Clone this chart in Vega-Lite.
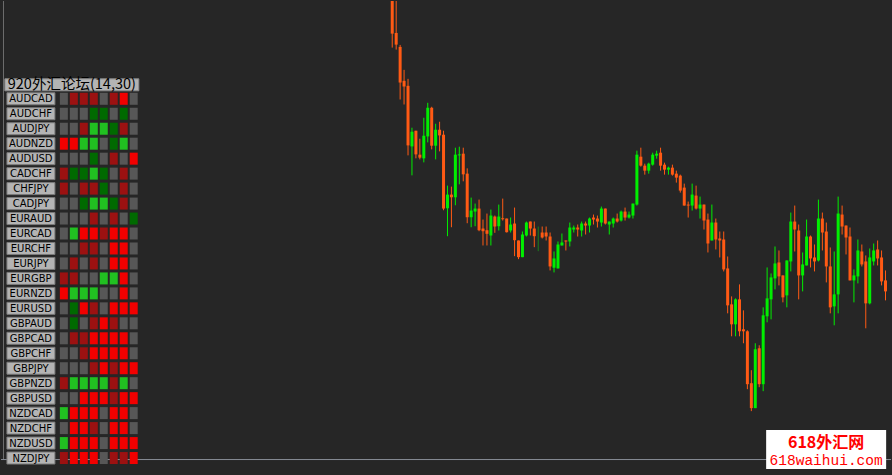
{
"$schema": "https://vega.github.io/schema/vega-lite/v6.json",
"width": 892, "height": 475, "padding": 0,
"autosize": {"type": "fit", "contains": "padding"},
"background": "#262626",
"config": {"view": {"stroke": null}},
"datasets": {
"candles": [
{"i":0,"o":480,"h":485,"l":428.3,"c":442.3},
{"i":1,"o":443,"h":478,"l":426.3,"c":431.3},
{"i":2,"o":429,"h":431,"l":376.3,"c":393.3},
{"i":3,"o":395,"h":406,"l":371.3,"c":389.3},
{"i":4,"o":390,"h":397,"l":320.3,"c":330.3},
{"i":5,"o":329.3,"h":348,"l":300.3,"c":344},
{"i":6,"o":345,"h":345,"l":317.3,"c":321.3},
{"i":7,"o":321,"h":337,"l":316.3,"c":318},
{"i":8,"o":317.3,"h":358,"l":313.3,"c":340},
{"i":9,"o":339.3,"h":373,"l":333.3,"c":368},
{"i":10,"o":368,"h":369,"l":326.3,"c":330},
{"i":11,"o":330,"h":352,"l":316.3,"c":346},
{"i":12,"o":346,"h":354,"l":324.3,"c":340.3},
{"i":13,"o":341,"h":345,"l":265.3,"c":267},
{"i":14,"o":267.3,"h":290,"l":239.3,"c":281},
{"i":15,"o":281,"h":289,"l":248.3,"c":278.3},
{"i":16,"o":278.3,"h":328,"l":270.3,"c":321},
{"i":17,"o":320.3,"h":329,"l":291.3,"c":321.3},
{"i":18,"o":322,"h":328,"l":294.3,"c":301.3},
{"i":19,"o":302,"h":307.3,"l":252.3,"c":258.3},
{"i":20,"o":258.3,"h":278,"l":248.3,"c":265},
{"i":21,"o":264,"h":272,"l":249.3,"c":267},
{"i":22,"o":267,"h":276,"l":244.3,"c":245.3},
{"i":23,"o":247,"h":256,"l":230,"c":244.3},
{"i":24,"o":245.3,"h":262,"l":230,"c":241.7},
{"i":25,"o":240,"h":266,"l":230,"c":260},
{"i":26,"o":259,"h":260,"l":242.7,"c":249},
{"i":27,"o":249.3,"h":271,"l":245,"c":259},
{"i":28,"o":257.3,"h":277,"l":255,"c":256.3},
{"i":29,"o":257,"h":257,"l":243,"c":243.3},
{"i":30,"o":245,"h":258,"l":243,"c":251},
{"i":31,"o":252,"h":268,"l":219.3,"c":235.3},
{"i":32,"o":235,"h":235,"l":216.3,"c":218.3},
{"i":33,"o":218.3,"h":244,"l":218.3,"c":241},
{"i":34,"o":240,"h":254,"l":239,"c":253},
{"i":35,"o":254,"h":254,"l":240,"c":247},
{"i":36,"o":247,"h":254,"l":228.3,"c":239.3},
{"i":37,"o":243,"h":249,"l":224.3,"c":243},
{"i":38,"o":243,"h":249,"l":237,"c":238},
{"i":39,"o":243,"h":249,"l":235,"c":239},
{"i":40,"o":239,"h":243,"l":205,"c":209},
{"i":41,"o":207.7,"h":224,"l":203,"c":217},
{"i":42,"o":207,"h":234,"l":207,"c":231},
{"i":43,"o":230,"h":242,"l":230,"c":233},
{"i":44,"o":235,"h":235,"l":225,"c":234},
{"i":45,"o":234,"h":253,"l":229,"c":248},
{"i":46,"o":246,"h":250,"l":243,"c":248},
{"i":47,"o":248,"h":251,"l":239,"c":246},
{"i":48,"o":245,"h":254,"l":239,"c":252},
{"i":49,"o":252,"h":254,"l":241,"c":250},
{"i":50,"o":250,"h":258,"l":243,"c":257},
{"i":51,"o":258,"h":261,"l":251,"c":256},
{"i":52,"o":257,"h":260,"l":248,"c":254},
{"i":53,"o":253,"h":269,"l":249,"c":267},
{"i":54,"o":267,"h":267,"l":251,"c":252},
{"i":55,"o":251,"h":254,"l":241,"c":254},
{"i":56,"o":252,"h":258,"l":248,"c":257},
{"i":57,"o":257,"h":262,"l":253,"c":254},
{"i":58,"o":255,"h":265,"l":254,"c":264},
{"i":59,"o":264,"h":268,"l":255,"c":258},
{"i":60,"o":258,"h":264,"l":257,"c":261},
{"i":61,"o":260,"h":272,"l":257,"c":272},
{"i":62,"o":271,"h":325,"l":270,"c":321},
{"i":63,"o":319,"h":328,"l":309,"c":310},
{"i":64,"o":310,"h":312,"l":301,"c":305},
{"i":65,"o":305,"h":313,"l":302,"c":312},
{"i":66,"o":311,"h":323,"l":310,"c":321},
{"i":67,"o":320,"h":325,"l":317,"c":322},
{"i":68,"o":323,"h":328,"l":305,"c":310},
{"i":69,"o":311,"h":313,"l":301,"c":306},
{"i":70,"o":306,"h":309,"l":301,"c":308},
{"i":71,"o":308,"h":311,"l":300,"c":301},
{"i":72,"o":302,"h":305,"l":293,"c":298},
{"i":73,"o":300,"h":301,"l":283,"c":285},
{"i":74,"o":288,"h":292,"l":270,"c":270},
{"i":75,"o":271,"h":274,"l":258,"c":270},
{"i":76,"o":270,"h":292,"l":265,"c":281},
{"i":77,"o":280,"h":290,"l":266,"c":267},
{"i":78,"o":267,"h":279,"l":257,"c":271},
{"i":79,"o":271,"h":271,"l":246,"c":255},
{"i":80,"o":256,"h":262,"l":223,"c":232},
{"i":81,"o":235,"h":271,"l":235,"c":253},
{"i":82,"o":253,"h":257,"l":226,"c":236},
{"i":83,"o":237,"h":244,"l":218,"c":235},
{"i":84,"o":236,"h":244,"l":204,"c":206},
{"i":85,"o":207,"h":219,"l":162,"c":170},
{"i":86,"o":171,"h":179,"l":139,"c":151},
{"i":87,"o":151,"h":177,"l":139,"c":176},
{"i":88,"o":176,"h":191,"l":139,"c":144},
{"i":89,"o":146,"h":165,"l":132,"c":144},
{"i":90,"o":144,"h":145,"l":86,"c":91},
{"i":91,"o":92,"h":105,"l":64,"c":67},
{"i":92,"o":67,"h":132,"l":67,"c":126},
{"i":93,"o":127,"h":130,"l":88,"c":91},
{"i":94,"o":91,"h":168,"l":84,"c":160},
{"i":95,"o":159,"h":208,"l":153,"c":177},
{"i":96,"o":176,"h":202,"l":156,"c":198},
{"i":97,"o":197,"h":229,"l":186,"c":212},
{"i":98,"o":213,"h":225,"l":190,"c":199},
{"i":99,"o":200,"h":200,"l":173,"c":178},
{"i":100,"o":180,"h":215,"l":168,"c":215},
{"i":101,"o":214,"h":263,"l":204,"c":254},
{"i":102,"o":254,"h":270,"l":224,"c":246},
{"i":103,"o":245,"h":251,"l":176,"c":200},
{"i":104,"o":200,"h":223,"l":184,"c":211},
{"i":105,"o":210,"h":256,"l":210,"c":239},
{"i":106,"o":239,"h":240,"l":208,"c":217},
{"i":107,"o":218,"h":231,"l":204,"c":214},
{"i":108,"o":215,"h":276,"l":214,"c":257},
{"i":109,"o":257,"h":263,"l":225,"c":243},
{"i":110,"o":244,"h":253,"l":193,"c":209},
{"i":111,"o":209,"h":228,"l":162,"c":168},
{"i":112,"o":169,"h":224,"l":150,"c":181},
{"i":113,"o":181,"h":279,"l":162,"c":262},
{"i":114,"o":261,"h":270,"l":241,"c":249},
{"i":115,"o":250,"h":250,"l":221,"c":238},
{"i":116,"o":239,"h":248,"l":195,"c":195},
{"i":117,"o":195,"h":206,"l":173,"c":200},
{"i":118,"o":199,"h":236,"l":192,"c":225},
{"i":119,"o":224,"h":231,"l":209,"c":211},
{"i":120,"o":214,"h":220,"l":147,"c":172},
{"i":121,"o":172,"h":227,"l":171,"c":218},
{"i":122,"o":214,"h":232,"l":210,"c":225},
{"i":123,"o":226,"h":235,"l":210,"c":217},
{"i":124,"o":218,"h":225,"l":190,"c":194},
{"i":125,"o":195,"h":205,"l":175,"c":184}
],
"pairs": [
{"p":"AUDCAD","r":0},{"p":"AUDCHF","r":1},{"p":"AUDJPY","r":2},{"p":"AUDNZD","r":3},{"p":"AUDUSD","r":4},
{"p":"CADCHF","r":5},{"p":"CHFJPY","r":6},{"p":"CADJPY","r":7},{"p":"EURAUD","r":8},{"p":"EURCAD","r":9},
{"p":"EURCHF","r":10},{"p":"EURJPY","r":11},{"p":"EURGBP","r":12},{"p":"EURNZD","r":13},{"p":"EURUSD","r":14},
{"p":"GBPAUD","r":15},{"p":"GBPCAD","r":16},{"p":"GBPCHF","r":17},{"p":"GBPJPY","r":18},{"p":"GBPNZD","r":19},
{"p":"GBPUSD","r":20},{"p":"NZDCAD","r":21},{"p":"NZDCHF","r":22},{"p":"NZDUSD","r":23},{"p":"NZDJPY","r":24}
],
"cells": [
{"p":"AUDCAD","k":1,"s":"n"},{"p":"AUDCAD","k":2,"s":"dr"},{"p":"AUDCAD","k":3,"s":"dr"},{"p":"AUDCAD","k":4,"s":"dr"},{"p":"AUDCAD","k":5,"s":"n"},{"p":"AUDCAD","k":6,"s":"dr"},{"p":"AUDCAD","k":7,"s":"r"},{"p":"AUDCAD","k":8,"s":"n"},
{"p":"AUDCHF","k":1,"s":"n"},{"p":"AUDCHF","k":2,"s":"n"},{"p":"AUDCHF","k":3,"s":"n"},{"p":"AUDCHF","k":4,"s":"dg"},{"p":"AUDCHF","k":5,"s":"dg"},{"p":"AUDCHF","k":6,"s":"n"},{"p":"AUDCHF","k":7,"s":"dg"},{"p":"AUDCHF","k":8,"s":"n"},
{"p":"AUDJPY","k":1,"s":"n"},{"p":"AUDJPY","k":2,"s":"n"},{"p":"AUDJPY","k":3,"s":"dr"},{"p":"AUDJPY","k":4,"s":"g"},{"p":"AUDJPY","k":5,"s":"g"},{"p":"AUDJPY","k":6,"s":"dg"},{"p":"AUDJPY","k":7,"s":"dr"},{"p":"AUDJPY","k":8,"s":"n"},
{"p":"AUDNZD","k":1,"s":"r"},{"p":"AUDNZD","k":2,"s":"r"},{"p":"AUDNZD","k":3,"s":"g"},{"p":"AUDNZD","k":4,"s":"g"},{"p":"AUDNZD","k":5,"s":"n"},{"p":"AUDNZD","k":6,"s":"dg"},{"p":"AUDNZD","k":7,"s":"g"},{"p":"AUDNZD","k":8,"s":"n"},
{"p":"AUDUSD","k":1,"s":"n"},{"p":"AUDUSD","k":2,"s":"n"},{"p":"AUDUSD","k":3,"s":"n"},{"p":"AUDUSD","k":4,"s":"dg"},{"p":"AUDUSD","k":5,"s":"n"},{"p":"AUDUSD","k":6,"s":"dr"},{"p":"AUDUSD","k":7,"s":"n"},{"p":"AUDUSD","k":8,"s":"r"},
{"p":"CADCHF","k":1,"s":"dr"},{"p":"CADCHF","k":2,"s":"dg"},{"p":"CADCHF","k":3,"s":"dg"},{"p":"CADCHF","k":4,"s":"g"},{"p":"CADCHF","k":5,"s":"dg"},{"p":"CADCHF","k":6,"s":"n"},{"p":"CADCHF","k":7,"s":"dr"},{"p":"CADCHF","k":8,"s":"n"},
{"p":"CHFJPY","k":1,"s":"dr"},{"p":"CHFJPY","k":2,"s":"n"},{"p":"CHFJPY","k":3,"s":"dr"},{"p":"CHFJPY","k":4,"s":"dr"},{"p":"CHFJPY","k":5,"s":"dg"},{"p":"CHFJPY","k":6,"s":"n"},{"p":"CHFJPY","k":7,"s":"dr"},{"p":"CHFJPY","k":8,"s":"n"},
{"p":"CADJPY","k":1,"s":"n"},{"p":"CADJPY","k":2,"s":"n"},{"p":"CADJPY","k":3,"s":"dg"},{"p":"CADJPY","k":4,"s":"g"},{"p":"CADJPY","k":5,"s":"g"},{"p":"CADJPY","k":6,"s":"dg"},{"p":"CADJPY","k":7,"s":"dr"},{"p":"CADJPY","k":8,"s":"n"},
{"p":"EURAUD","k":1,"s":"n"},{"p":"EURAUD","k":2,"s":"n"},{"p":"EURAUD","k":3,"s":"n"},{"p":"EURAUD","k":4,"s":"dr"},{"p":"EURAUD","k":5,"s":"n"},{"p":"EURAUD","k":6,"s":"dr"},{"p":"EURAUD","k":7,"s":"n"},{"p":"EURAUD","k":8,"s":"dg"},
{"p":"EURCAD","k":1,"s":"n"},{"p":"EURCAD","k":2,"s":"g"},{"p":"EURCAD","k":3,"s":"r"},{"p":"EURCAD","k":4,"s":"r"},{"p":"EURCAD","k":5,"s":"dr"},{"p":"EURCAD","k":6,"s":"r"},{"p":"EURCAD","k":7,"s":"r"},{"p":"EURCAD","k":8,"s":"n"},
{"p":"EURCHF","k":1,"s":"n"},{"p":"EURCHF","k":2,"s":"n"},{"p":"EURCHF","k":3,"s":"dr"},{"p":"EURCHF","k":4,"s":"dr"},{"p":"EURCHF","k":5,"s":"n"},{"p":"EURCHF","k":6,"s":"r"},{"p":"EURCHF","k":7,"s":"r"},{"p":"EURCHF","k":8,"s":"n"},
{"p":"EURJPY","k":1,"s":"n"},{"p":"EURJPY","k":2,"s":"dr"},{"p":"EURJPY","k":3,"s":"n"},{"p":"EURJPY","k":4,"s":"dr"},{"p":"EURJPY","k":5,"s":"n"},{"p":"EURJPY","k":6,"s":"r"},{"p":"EURJPY","k":7,"s":"r"},{"p":"EURJPY","k":8,"s":"n"},
{"p":"EURGBP","k":1,"s":"dr"},{"p":"EURGBP","k":2,"s":"dr"},{"p":"EURGBP","k":3,"s":"n"},{"p":"EURGBP","k":4,"s":"n"},{"p":"EURGBP","k":5,"s":"g"},{"p":"EURGBP","k":6,"s":"g"},{"p":"EURGBP","k":7,"s":"r"},{"p":"EURGBP","k":8,"s":"n"},
{"p":"EURNZD","k":1,"s":"r"},{"p":"EURNZD","k":2,"s":"g"},{"p":"EURNZD","k":3,"s":"g"},{"p":"EURNZD","k":4,"s":"g"},{"p":"EURNZD","k":5,"s":"n"},{"p":"EURNZD","k":6,"s":"n"},{"p":"EURNZD","k":7,"s":"r"},{"p":"EURNZD","k":8,"s":"n"},
{"p":"EURUSD","k":1,"s":"n"},{"p":"EURUSD","k":2,"s":"dg"},{"p":"EURUSD","k":3,"s":"r"},{"p":"EURUSD","k":4,"s":"dr"},{"p":"EURUSD","k":5,"s":"n"},{"p":"EURUSD","k":6,"s":"r"},{"p":"EURUSD","k":7,"s":"r"},{"p":"EURUSD","k":8,"s":"r"},
{"p":"GBPAUD","k":1,"s":"n"},{"p":"GBPAUD","k":2,"s":"dg"},{"p":"GBPAUD","k":3,"s":"n"},{"p":"GBPAUD","k":4,"s":"dr"},{"p":"GBPAUD","k":5,"s":"r"},{"p":"GBPAUD","k":6,"s":"dr"},{"p":"GBPAUD","k":7,"s":"n"},{"p":"GBPAUD","k":8,"s":"n"},
{"p":"GBPCAD","k":1,"s":"n"},{"p":"GBPCAD","k":2,"s":"dr"},{"p":"GBPCAD","k":3,"s":"dr"},{"p":"GBPCAD","k":4,"s":"r"},{"p":"GBPCAD","k":5,"s":"r"},{"p":"GBPCAD","k":6,"s":"r"},{"p":"GBPCAD","k":7,"s":"r"},{"p":"GBPCAD","k":8,"s":"n"},
{"p":"GBPCHF","k":1,"s":"n"},{"p":"GBPCHF","k":2,"s":"n"},{"p":"GBPCHF","k":3,"s":"dr"},{"p":"GBPCHF","k":4,"s":"r"},{"p":"GBPCHF","k":5,"s":"r"},{"p":"GBPCHF","k":6,"s":"r"},{"p":"GBPCHF","k":7,"s":"r"},{"p":"GBPCHF","k":8,"s":"n"},
{"p":"GBPJPY","k":1,"s":"n"},{"p":"GBPJPY","k":2,"s":"n"},{"p":"GBPJPY","k":3,"s":"n"},{"p":"GBPJPY","k":4,"s":"dr"},{"p":"GBPJPY","k":5,"s":"r"},{"p":"GBPJPY","k":6,"s":"dr"},{"p":"GBPJPY","k":7,"s":"r"},{"p":"GBPJPY","k":8,"s":"r"},
{"p":"GBPNZD","k":1,"s":"dr"},{"p":"GBPNZD","k":2,"s":"g"},{"p":"GBPNZD","k":3,"s":"g"},{"p":"GBPNZD","k":4,"s":"g"},{"p":"GBPNZD","k":5,"s":"g"},{"p":"GBPNZD","k":6,"s":"dr"},{"p":"GBPNZD","k":7,"s":"g"},{"p":"GBPNZD","k":8,"s":"n"},
{"p":"GBPUSD","k":1,"s":"n"},{"p":"GBPUSD","k":2,"s":"n"},{"p":"GBPUSD","k":3,"s":"r"},{"p":"GBPUSD","k":4,"s":"r"},{"p":"GBPUSD","k":5,"s":"r"},{"p":"GBPUSD","k":6,"s":"dr"},{"p":"GBPUSD","k":7,"s":"r"},{"p":"GBPUSD","k":8,"s":"r"},
{"p":"NZDCAD","k":1,"s":"g"},{"p":"NZDCAD","k":2,"s":"r"},{"p":"NZDCAD","k":3,"s":"r"},{"p":"NZDCAD","k":4,"s":"r"},{"p":"NZDCAD","k":5,"s":"n"},{"p":"NZDCAD","k":6,"s":"r"},{"p":"NZDCAD","k":7,"s":"r"},{"p":"NZDCAD","k":8,"s":"n"},
{"p":"NZDCHF","k":1,"s":"n"},{"p":"NZDCHF","k":2,"s":"r"},{"p":"NZDCHF","k":3,"s":"r"},{"p":"NZDCHF","k":4,"s":"dr"},{"p":"NZDCHF","k":5,"s":"n"},{"p":"NZDCHF","k":6,"s":"r"},{"p":"NZDCHF","k":7,"s":"r"},{"p":"NZDCHF","k":8,"s":"n"},
{"p":"NZDUSD","k":1,"s":"g"},{"p":"NZDUSD","k":2,"s":"r"},{"p":"NZDUSD","k":3,"s":"r"},{"p":"NZDUSD","k":4,"s":"r"},{"p":"NZDUSD","k":5,"s":"n"},{"p":"NZDUSD","k":6,"s":"r"},{"p":"NZDUSD","k":7,"s":"r"},{"p":"NZDUSD","k":8,"s":"r"},
{"p":"NZDJPY","k":1,"s":"dr"},{"p":"NZDJPY","k":2,"s":"r"},{"p":"NZDJPY","k":3,"s":"r"},{"p":"NZDJPY","k":4,"s":"r"},{"p":"NZDJPY","k":5,"s":"n"},{"p":"NZDJPY","k":6,"s":"dr"},{"p":"NZDJPY","k":7,"s":"dr"},{"p":"NZDJPY","k":8,"s":"r"}
],
"title": [{"t":"920外汇论坛(14,30)"}],
"wm1": [{"t":"618外汇网"}],
"wm2": [{"t":"618waihui.com"}]
},
"layer": [
{
"data": {"name": "candles"},
"encoding": {
"x": {"field": "i", "type": "quantitative", "axis": null, "scale": {"domain": [-97.875, 125.125], "nice": false, "zero": false}},
"color": {"condition": [{"test": "datum.c == datum.o", "value": "#1b7d1b"}, {"test": "datum.c > datum.o", "value": "#00ee00"}], "value": "#ff5a14"}
},
"layer": [
{"mark": {"type": "rule", "strokeWidth": 1, "clip": true},
"encoding": {"y": {"field": "l", "type": "quantitative", "axis": null, "scale": {"domain": [0, 475], "nice": false, "zero": false}}, "y2": {"field": "h"}}},
{"mark": {"type": "bar", "width": 3, "clip": true},
"encoding": {"y": {"field": "o", "type": "quantitative", "axis": null, "scale": {"domain": [0, 475], "nice": false, "zero": false}}, "y2": {"field": "c"}}}
]
},
{
"layer": [
{"data": {"values": [{}]}, "mark": {"type": "rule", "color": "#6e6e6e", "strokeWidth": 1},
"encoding": {"x": {"datum": -5.05, "type": "quantitative", "axis": null, "scale": {"domain": [-5.3, 83.9], "nice": false, "zero": false}},
"y": {"datum": -6.5333, "type": "quantitative", "axis": null, "scale": {"domain": [-6.5333, 25.1333], "nice": false, "zero": false, "reverse": true}}, "y2": {"datum": 24.067}}},
{"data": {"values": [{}]}, "mark": {"type": "rule", "color": "#878c95", "strokeWidth": 1},
"encoding": {"x": {"datum": -5.3, "type": "quantitative", "axis": null, "scale": {"domain": [-5.3, 83.9], "nice": false, "zero": false}}, "x2": {"datum": 83.9},
"y": {"datum": 24.1, "type": "quantitative", "axis": null, "scale": {"domain": [-6.5333, 25.1333], "nice": false, "zero": false, "reverse": true}}}},
{"data": {"name": "title"}, "mark": {"type": "point", "shape": "M-1,-0.0896H1V0.0896H-1Z", "size": 17956, "filled": true, "opacity": 1, "color": "#b4b4b4", "stroke": "#8a8a8a", "strokeWidth": 1},
"encoding": {"x": {"datum": 1.8, "type": "quantitative", "axis": null, "scale": {"domain": [-5.3, 83.9], "nice": false, "zero": false}},
"y": {"datum": -0.9333, "type": "quantitative", "axis": null, "scale": {"domain": [-6.5333, 25.1333], "nice": false, "zero": false, "reverse": true}}}},
{"data": {"name": "title"}, "mark": {"type": "text", "font": "Noto Sans CJK SC", "fontSize": 14.5, "color": "#000000", "align": "center", "baseline": "middle", "dy": 0},
"encoding": {"text": {"field": "t"}, "x": {"datum": 1.8, "type": "quantitative", "axis": null, "scale": {"domain": [-5.3, 83.9], "nice": false, "zero": false}},
"y": {"datum": -0.9333, "type": "quantitative", "axis": null, "scale": {"domain": [-6.5333, 25.1333], "nice": false, "zero": false, "reverse": true}}}},
{"data": {"name": "pairs"}, "mark": {"type": "point", "shape": "M-1,-0.25H1V0.25H-1Z", "size": 2304, "filled": true, "opacity": 1, "color": "#b4b4b4", "stroke": "#7a7a7a", "strokeWidth": 1},
"encoding": {"x": {"datum": -2.3, "type": "quantitative", "axis": null, "scale": {"domain": [-5.3, 83.9], "nice": false, "zero": false}},
"y": {"field": "r", "type": "quantitative", "axis": null, "scale": {"domain": [-6.5333, 25.1333], "nice": false, "zero": false, "reverse": true}}}},
{"data": {"name": "pairs"}, "mark": {"type": "text", "font": "DejaVu Sans", "fontSize": 10, "color": "#000000", "align": "center", "baseline": "middle", "dy": 0.5},
"encoding": {"text": {"field": "p"}, "x": {"datum": -2.3, "type": "quantitative", "axis": null, "scale": {"domain": [-5.3, 83.9], "nice": false, "zero": false}},
"y": {"field": "r", "type": "quantitative", "axis": null, "scale": {"domain": [-6.5333, 25.1333], "nice": false, "zero": false, "reverse": true}}}},
{"data": {"name": "cells"},
"transform": [{"lookup": "p", "from": {"data": {"name": "pairs"}, "key": "p", "fields": ["r"]}}],
"mark": {"type": "point", "shape": "M-0.6667,-1H0.6667V1H-0.6667Z", "size": 144, "filled": true, "opacity": 1},
"encoding": {"x": {"field": "k", "type": "quantitative", "axis": null, "scale": {"domain": [-5.3, 83.9], "nice": false, "zero": false}},
"y": {"field": "r", "type": "quantitative", "axis": null, "scale": {"domain": [-6.5333, 25.1333], "nice": false, "zero": false, "reverse": true}},
"color": {"field": "s", "type": "nominal", "legend": null, "scale": {"domain": ["n", "dr", "r", "dg", "g"], "range": ["#575757", "#9c1111", "#f20000", "#006a00", "#21c021"]}}}},
{"data": {"values": [{}]}, "mark": {"type": "point", "shape": "M-1,-0.325H1V0.325H-1Z", "size": 14400, "filled": true, "opacity": 1, "color": "#ffffff"},
"encoding": {"x": {"datum": 77.4, "type": "quantitative", "axis": null, "scale": {"domain": [-5.3, 83.9], "nice": false, "zero": false}},
"y": {"datum": 23.433, "type": "quantitative", "axis": null, "scale": {"domain": [-6.5333, 25.1333], "nice": false, "zero": false, "reverse": true}}}},
{"data": {"name": "wm1"}, "mark": {"type": "text", "font": "Noto Sans CJK SC", "fontSize": 16, "fontWeight": "bold", "color": "#ff0000", "align": "center", "baseline": "middle"},
"encoding": {"text": {"field": "t"}, "x": {"datum": 77.4, "type": "quantitative", "axis": null, "scale": {"domain": [-5.3, 83.9], "nice": false, "zero": false}},
"y": {"datum": 22.967, "type": "quantitative", "axis": null, "scale": {"domain": [-6.5333, 25.1333], "nice": false, "zero": false, "reverse": true}}}},
{"data": {"name": "wm2"}, "mark": {"type": "text", "font": "Liberation Mono", "fontSize": 14.5, "color": "#ff0000", "align": "center", "baseline": "middle"},
"encoding": {"text": {"field": "t"}, "x": {"datum": 77.4, "type": "quantitative", "axis": null, "scale": {"domain": [-5.3, 83.9], "nice": false, "zero": false}},
"y": {"datum": 24.2, "type": "quantitative", "axis": null, "scale": {"domain": [-6.5333, 25.1333], "nice": false, "zero": false, "reverse": true}}}}
]
}
],
"resolve": {"scale": {"x": "independent", "y": "independent", "color": "independent"}}
}
